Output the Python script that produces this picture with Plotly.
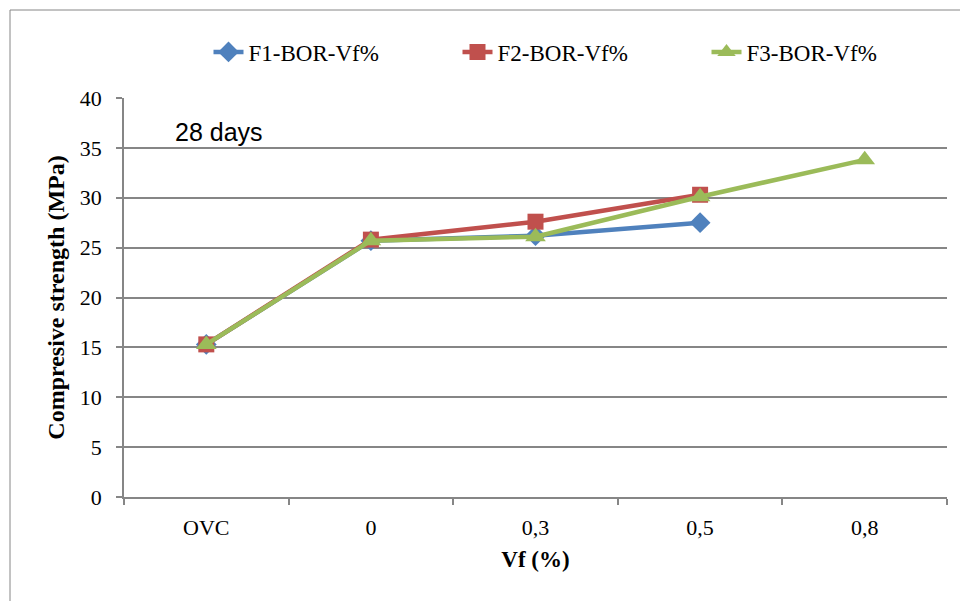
import plotly.graph_objects as go

categories = ["OVC", "0", "0,3", "0,5", "0,8"]
f1 = [15.3, 25.7, 26.2, 27.5, None]
f2 = [15.3, 25.8, 27.6, 30.3, None]
f3 = [15.3, 25.7, 26.1, 30.1, 33.8]
y_ticks = [0, 5, 10, 15, 20, 25, 30, 35, 40]

serif = "Liberation Serif, Times New Roman, serif"
grey = "#868686"

fig = go.Figure()
series = [
    ("F1-BOR-Vf%", f1, "#4F81BD", "diamond", 16),
    ("F2-BOR-Vf%", f2, "#C0504D", "square", 16),
    ("F3-BOR-Vf%", f3, "#9BBB59", "triangle-up", 18),
]
for name, vals, color, sym, size in series:
    fig.add_trace(go.Scatter(
        x=categories, y=vals, name=name, mode="lines+markers",
        line=dict(color=color, width=4.5),
        marker=dict(symbol=sym, size=size, color=color),
        connectgaps=False,
    ))

# page offset of 8px (body margin) compensated in margins
fig.update_layout(
    width=968, height=601,
    margin=dict(l=116, r=29, t=90, b=112, autoexpand=False),
    paper_bgcolor="white", plot_bgcolor="white",
    font=dict(family=serif, color="black"),
    showlegend=True,
    legend=dict(orientation="h", x=(582 - 124) / 823, xanchor="center",
                y=(497 - 52) / 399, yanchor="middle",
                font=dict(size=23, family=serif), traceorder="normal",
                entrywidth=204, entrywidthmode="pixels", bgcolor="rgba(0,0,0,0)"),
    xaxis=dict(
        type="category", range=[-0.5, 4.5], tickson="boundaries",
        ticks="outside", ticklen=6, tickcolor=grey, tickwidth=1.5,
        showline=True, linecolor=grey, linewidth=1.5,
        showgrid=False, tickfont=dict(size=22, family=serif),
        ticklabelstandoff=10,
        title=dict(text="<b>Vf (%)</b>", font=dict(size=23, family=serif), standoff=12),
    ),
    yaxis=dict(
        range=[0, 40], tickvals=y_ticks, ticks="outside", ticklen=6, tickcolor=grey, tickwidth=1.5,
        showline=True, linecolor=grey, linewidth=1.5,
        showgrid=True, gridcolor=grey, gridwidth=1.5,
        tickfont=dict(size=22, family=serif), zeroline=False,
        ticklabelstandoff=10,
        title=dict(text="<b>Compresive strength (MPa)</b>", font=dict(size=24, family=serif), standoff=8),
    ),
)

fig.add_annotation(
    text="28 days", xref="paper", yref="paper",
    x=(173 - 124) / 823, y=(497 - 132) / 399, xanchor="left", yanchor="middle",
    showarrow=False, font=dict(size=25, family="Liberation Sans, Arial, sans-serif", color="black"),
)

fig.add_shape(
    type="rect", xref="paper", yref="paper",
    x0=(10 - 124) / 823, x1=(990 - 124) / 823,
    y0=(497 - 620) / 399, y1=(497 - 10) / 399,
    line=dict(color=grey, width=1), layer="below",
)

fig.write_html("out.html")
